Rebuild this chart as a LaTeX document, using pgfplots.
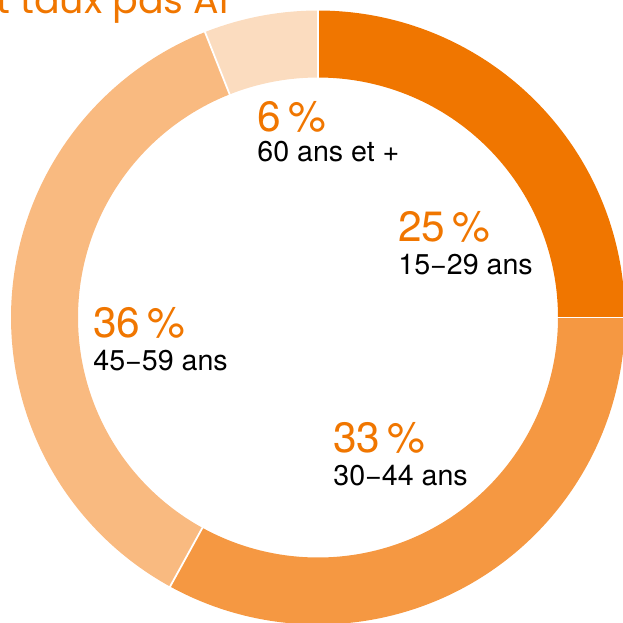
\documentclass[border=0pt]{standalone}
\usepackage{fontspec}
\setmainfont{TeX Gyre Heros}
\newfontfamily\titlefont{Poppins}
\usepackage{pgfplots}
\pgfplotsset{compat=1.18}
\definecolor{cA}{RGB}{240,118,0}
\definecolor{cB}{RGB}{245,152,66}
\definecolor{cC}{RGB}{249,186,128}
\definecolor{cD}{RGB}{251,220,191}
% shares (%)
\def\vA{25}\def\vB{33}\def\vC{36}\def\vD{6}
\pgfmathsetmacro\aA{90}
\pgfmathsetmacro\aB{90-3.6*\vA}
\pgfmathsetmacro\aC{90-3.6*(\vA+\vB)}
\pgfmathsetmacro\aD{90-3.6*(\vA+\vB+\vC)}
\pgfmathsetmacro\aE{90-3.6*(\vA+\vB+\vC+\vD)}
\def\cx{318}\def\cy{317.5}\def\rm{273.5}
\begin{document}
\begin{tikzpicture}
\useasboundingbox (0,0) rectangle (311.5pt,311.5pt);
\clip (0,0) rectangle (311.5pt,311.5pt);
\begin{axis}[at={(0,0)}, anchor=south west, width=311.5pt, height=311.5pt,
  scale only axis, xmin=0, xmax=623, ymin=0, ymax=623, y dir=reverse,
  hide axis, clip=false]
\addplot[cA, line width=33.5pt, domain=\aB:\aA, samples=120] ({\cx+\rm*cos(x)},{\cy-\rm*sin(x)});
\addplot[cB, line width=33.5pt, domain=\aC:\aB, samples=120] ({\cx+\rm*cos(x)},{\cy-\rm*sin(x)});
\addplot[cC, line width=33.5pt, domain=\aD:\aC, samples=120] ({\cx+\rm*cos(x)},{\cy-\rm*sin(x)});
\addplot[cD, line width=33.5pt, domain=\aE:\aD, samples=40] ({\cx+\rm*cos(x)},{\cy-\rm*sin(x)});
% separators
\addplot[white, line width=0.9pt, domain=238:309, samples=2] ({\cx+x*cos(\aA)},{\cy-x*sin(\aA)});
\addplot[white, line width=0.9pt, domain=238:309, samples=2] ({\cx+x*cos(\aB)},{\cy-x*sin(\aB)});
\addplot[white, line width=0.9pt, domain=238:309, samples=2] ({\cx+x*cos(\aC)},{\cy-x*sin(\aC)});
\addplot[white, line width=0.9pt, domain=238:309, samples=2] ({\cx+x*cos(\aD)},{\cy-x*sin(\aD)});
% labels
\tikzset{big/.style={anchor=base west, inner sep=0pt, text=cA, font=\fontsize{21.2}{25}\selectfont},
  small/.style={anchor=base west, inner sep=0pt, text=black, font=\fontsize{14.3}{17}\selectfont}}
\node[big] at (axis cs:257,131.5) {6\,\%};
\node[small] at (axis cs:257,161) {60 ans et +};
\node[big] at (axis cs:398,241.5) {25\,\%};
\node[small] at (axis cs:398,274) {15−29 ans};
\node[big] at (axis cs:93,337.5) {36\,\%};
\node[small] at (axis cs:93,370) {45−59 ans};
\node[big] at (axis cs:333,452) {33\,\%};
\node[small] at (axis cs:333,485) {30−44 ans};
% cut-off title
\node[anchor=base west, inner sep=0pt, text=cA, font=\titlefont\fontsize{19}{22}\selectfont] at (axis cs:-4,13) {t taux pas AI};
\end{axis}
\end{tikzpicture}
\end{document}
